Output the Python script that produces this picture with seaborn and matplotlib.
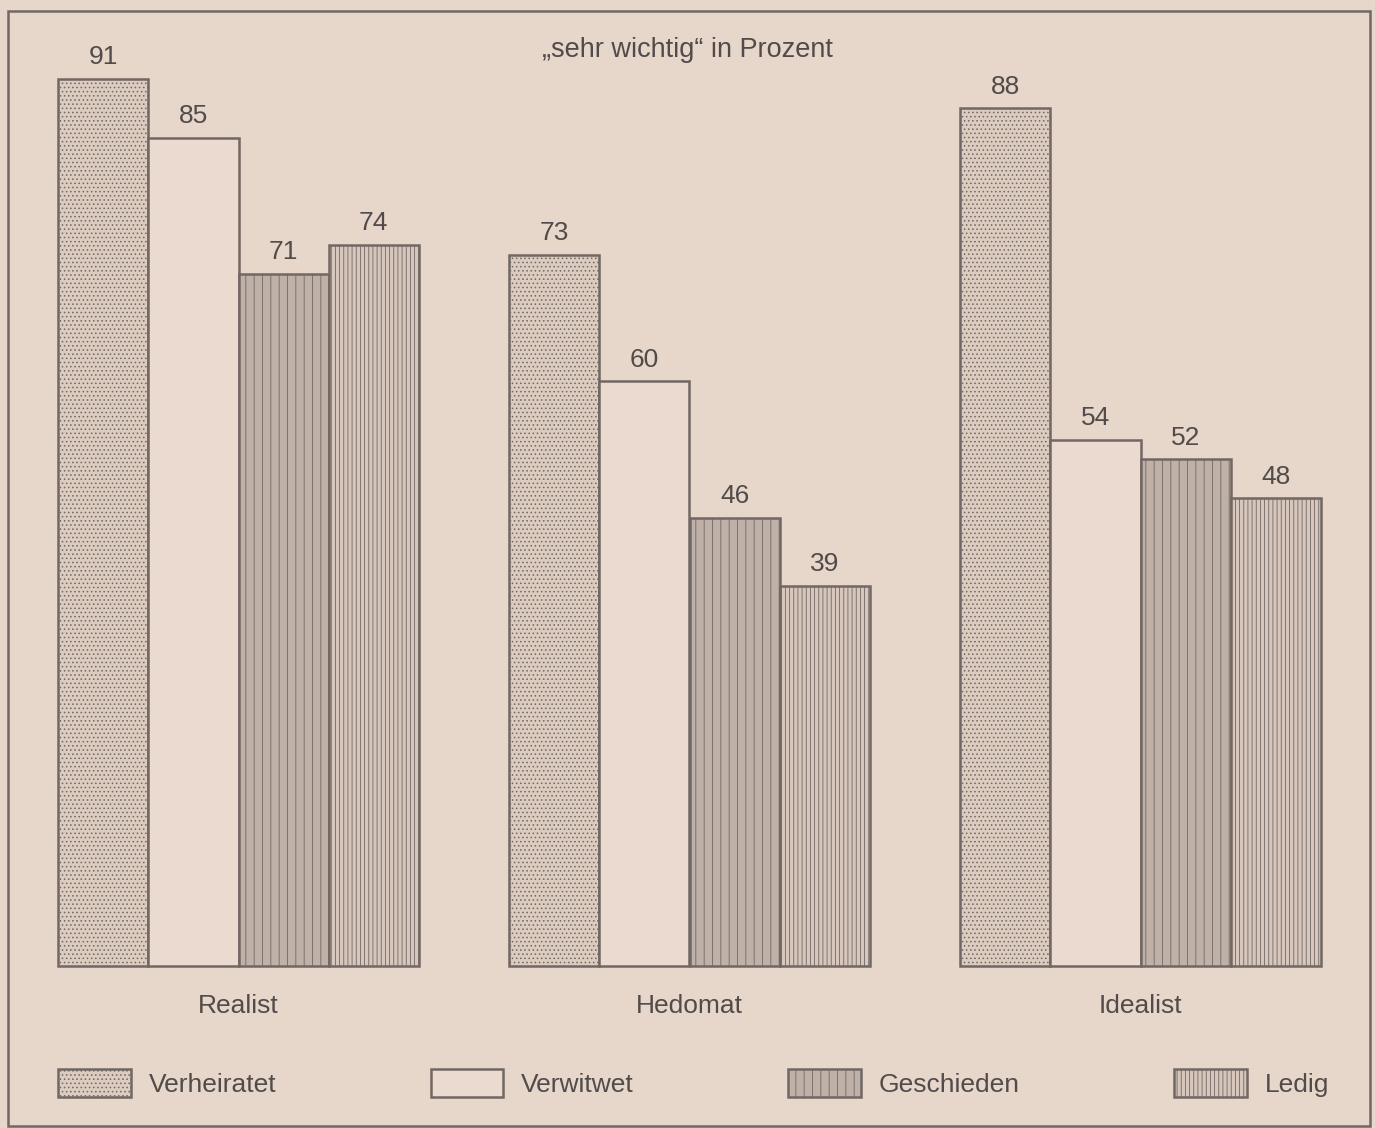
import matplotlib
matplotlib.use("Agg")
import matplotlib.pyplot as plt
import seaborn as sns
import pandas as pd
from matplotlib.patches import Rectangle, Patch

# Data: share answering "sehr wichtig" (percent) by value type and marital status
types = ["Realist", "Hedomat", "Idealist"]
status = ["Verheiratet", "Verwitwet", "Geschieden", "Ledig"]
verheiratet = [91, 73, 88]
verwitwet = [85, 60, 54]
geschieden = [71, 46, 52]
ledig = [74, 39, 48]
title = "„sehr wichtig“ in Prozent"

series = [verheiratet, verwitwet, geschieden, ledig]
df = pd.DataFrame(
    [(t, s, v) for s, vals in zip(status, series) for t, v in zip(types, vals)],
    columns=["Typ", "Status", "Wert"],
)

# Styling
bg = "#e7d6ca"
edge = "#716764"
txt = "#514b4a"
fills = ["#dccbbf", "#eadacf", "#bfb1a7", "#d6c6bb"]
hatches = ["....", None, "||", "||||"]
hatch_cols = ["#cdbcb1", None, "#b8aaa1", "#aa9d96"]
FS = 19

sns.set_theme(style="white")
plt.rcParams["font.family"] = ["Liberation Sans", "DejaVu Sans"]
plt.rcParams["hatch.linewidth"] = 0.6

W, H = 1375, 1128
fig = plt.figure(figsize=(W / 100, H / 100), dpi=100, facecolor=bg)
ax = fig.add_axes([13 / W, 1 - 966 / H, (1366 - 13) / W, (966 - 11) / H])
ax.set_facecolor("none")

sns.barplot(
    data=df, x="Typ", y="Wert", hue="Status", order=types, hue_order=status,
    palette=fills, saturation=1, edgecolor=edge, linewidth=1.8,
    errorbar=None, legend=False, ax=ax,
)

for i, cont in enumerate(ax.containers):
    for bar in cont:
        bar.set_clip_on(False)
        if hatches[i]:
            bar.set_hatch(hatches[i])
            if hasattr(bar, "set_hatchcolor"):
                bar.set_hatchcolor(hatch_cols[i])
    ax.bar_label(cont, labels=[f"{v:d}" for v in series[i]], padding=7,
                 fontsize=FS, color=txt)

ax.set_xlim(-0.5, 2.5)
ax.set_ylim(0, 98)
ax.set_xlabel("")
ax.set_ylabel("")
ax.set_yticks([])
ax.tick_params(axis="x", length=0, pad=20, labelsize=FS, labelcolor=txt)
for sp in ax.spines.values():
    sp.set_visible(False)

fig.text(0.5, 1 - 50 / H, title, ha="center", va="center", fontsize=FS + 0.5,
         color=txt)

# Legend in a single row below the groups
handles = []
for i, s in enumerate(status):
    kw = dict(facecolor=fills[i], edgecolor=edge, linewidth=1.8, label=s)
    if hatches[i]:
        kw["hatch"] = hatches[i]
    p = Patch(**kw)
    if hatches[i] and hasattr(p, "set_hatchcolor"):
        p.set_hatchcolor(hatch_cols[i])
    handles.append(p)

fig.legend(
    handles=handles, loc="center left", bbox_to_anchor=(58 / W, 1 - 1083 / H),
    ncol=4, frameon=False, fontsize=FS, labelcolor=txt,
    handlelength=2.75, handleheight=1.3, handletextpad=0.68,
    columnspacing=5.85, borderpad=0, borderaxespad=0,
)

# Outer frame around the whole graphic
fig.patches.append(Rectangle(
    (8 / W, 1 - 1126 / H), (1370 - 8) / W, (1126 - 11) / H,
    transform=fig.transFigure, fill=False, edgecolor=edge, linewidth=1.8,
))

fig.savefig("out.png", dpi=100, facecolor=bg)
